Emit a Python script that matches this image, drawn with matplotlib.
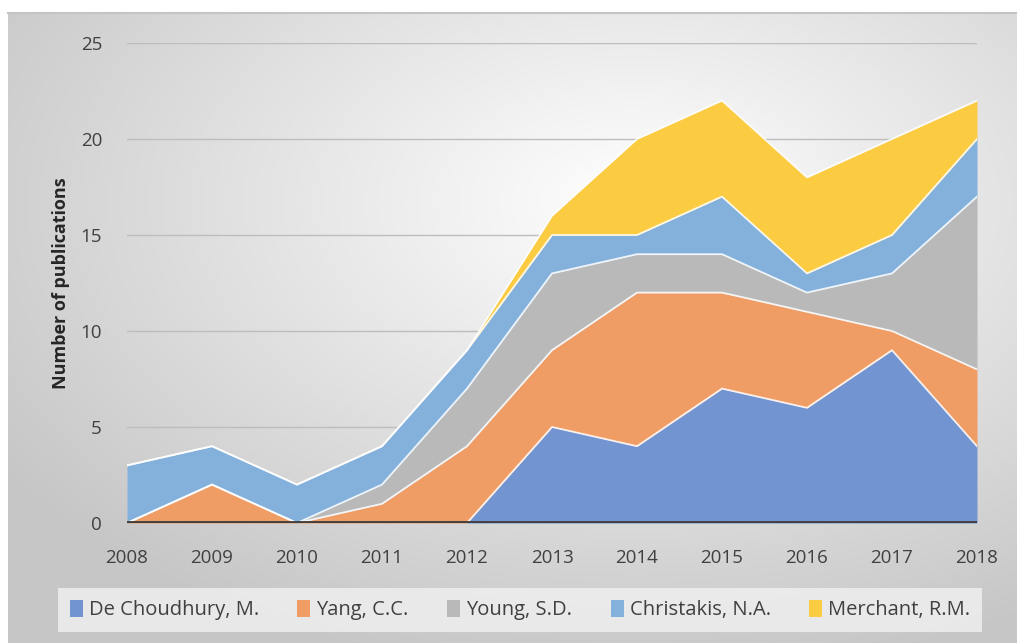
import numpy as np
import matplotlib
matplotlib.use('Agg')
from matplotlib import pyplot as plt

# Datos
years = [2008, 2009, 2010, 2011, 2012, 2013, 2014, 2015, 2016, 2017, 2018]
de_choudhury = [0, 0, 0, 0, 0, 5, 4, 7, 6, 9, 4]
yang = [0, 2, 0, 1, 4, 4, 8, 5, 5, 1, 4]
young = [0, 0, 0, 1, 3, 4, 2, 2, 1, 3, 9]
christakis = [3, 2, 2, 2, 2, 2, 1, 3, 1, 2, 3]
merchant = [0, 0, 0, 0, 0, 1, 5, 5, 5, 5, 2]

labels = ['De Choudhury, M.', 'Yang, C.C.', 'Young, S.D.', 'Christakis, N.A.', 'Merchant, R.M.']
colors = ['#7294d1', '#f09c65', '#b9b9b9', '#83b1dc', '#fbcb42']

plt.rcParams['font.family'] = ['Open Sans', 'DejaVu Sans']

W, H = 1017, 643
fig = plt.figure(figsize=(W / 100, H / 100), dpi=100)

# Fondo con gradiente radial
bg = fig.add_axes([8 / W, 0, 1 - 8 / W, 1 - 12 / H])
yy, xx = np.mgrid[0:300, 0:500]
cx, cy = 0.62 * 500, 0.3 * 300
d = np.sqrt(((xx - cx) / 500) ** 2 + ((yy - cy) / 300) ** 2)
d = np.clip(d / 0.75, 0, 1)
val = 1.0 - 0.22 * d
bg.imshow(np.dstack([val, val, val]), aspect='auto', extent=[0, 1, 0, 1], origin='upper')
bg.axis('off')
fig.add_artist(plt.Line2D([8 / W, 1], [1 - 12.5 / H, 1 - 12.5 / H], color='#c4c4c4', lw=1.5))

# Area del grafico
ax = fig.add_axes([127 / W, 1 - 523 / H, (977 - 127) / W, (523 - 43) / H])
ax.set_facecolor('none')
series = [de_choudhury, yang, young, christakis, merchant]
base = np.zeros(len(years))
for vals, lab, col in zip(series, labels, colors):
    top = base + np.array(vals)
    ax.fill_between(years, base, top, color=col, label=lab, lw=0, zorder=3)
    ax.plot(years, top, color='white', lw=1.3, alpha=0.85, zorder=4)
    base = top

ax.set_xlim(2008, 2018)
ax.set_ylim(0, 25)
ax.set_yticks([0, 5, 10, 15, 20, 25])
ax.set_xticks(years)
ax.grid(axis='y', color='#bdbdbd', lw=1, zorder=0)
ax.axhline(0, color='#404040', lw=3.5, zorder=5)
for s in ax.spines.values():
    s.set_visible(False)
ax.tick_params(length=0, labelsize=13.5, colors='#404040')
ax.tick_params(axis='x', pad=19)
ax.tick_params(axis='y', pad=18)
ax.set_ylabel('Number of publications', fontsize=13, fontweight='bold', color='#262626')
ax.yaxis.set_label_coords(-0.067, 0.5)

leg = fig.legend(loc='center', bbox_to_anchor=(520 / W, 1 - 610 / H), ncol=5, fontsize=14.5,
                 frameon=True, fancybox=False, handlelength=0.65, handleheight=0.9,
                 handletextpad=0.3, columnspacing=1.9, borderpad=0.6)
leg.get_frame().set_facecolor('#efefef')
leg.get_frame().set_edgecolor('none')
leg.get_frame().set_alpha(0.85)
for t in leg.get_texts():
    t.set_color('#404040')

fig.savefig('out.png', dpi=100)
